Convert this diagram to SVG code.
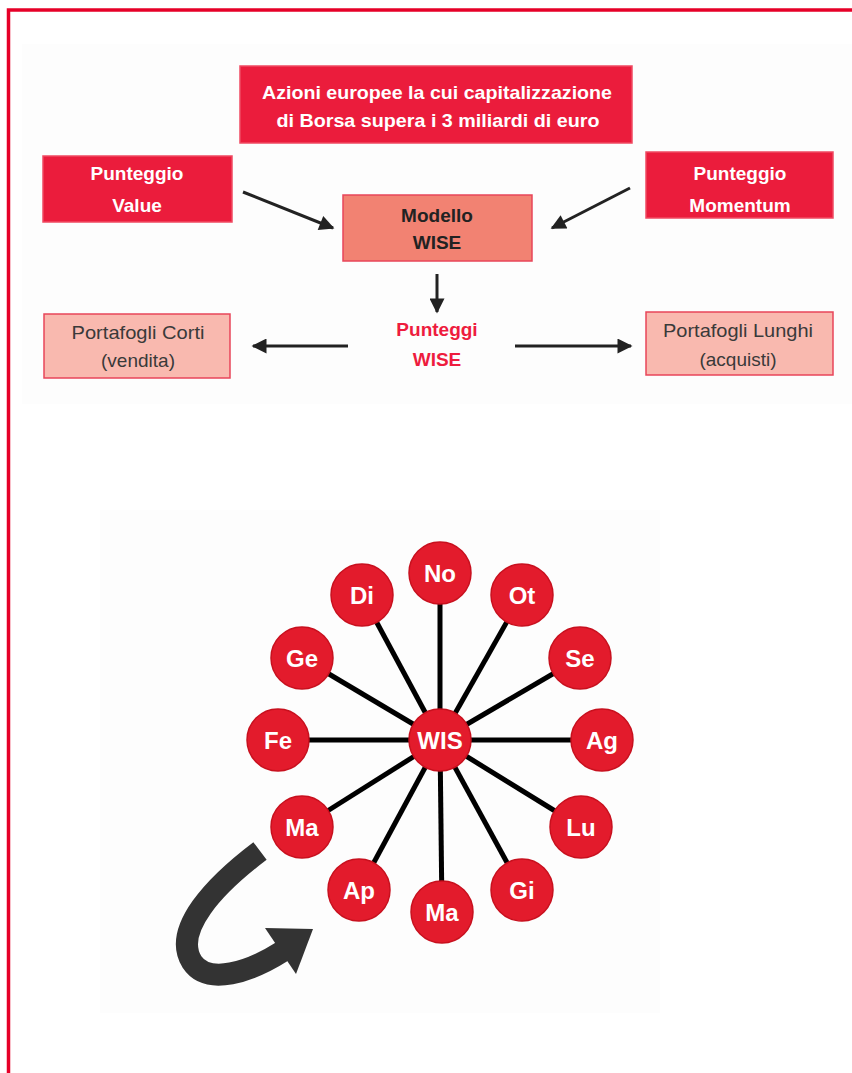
<svg xmlns="http://www.w3.org/2000/svg" width="852" height="1073" viewBox="0 0 852 1073">
<defs>
<style>
.t{font-family:"Liberation Sans",Arial,sans-serif;text-anchor:middle}
.b{font-weight:bold}
.red{fill:#eb1c3c;stroke:#f04a62;stroke-width:1.5}
.mid{fill:#f28272;stroke:#e8455a;stroke-width:1.5}
.light{fill:#f9b9af;stroke:#e8455a;stroke-width:1.5}
.wt{fill:#ffffff}
.arr{stroke:#222;stroke-width:3;fill:none;marker-end:url(#ah)}
.spoke{stroke:#000;stroke-width:5}
.c{fill:#e31b2c;stroke:#c8101e;stroke-width:1.5}
.ct{font-family:"Liberation Sans",Arial,sans-serif;font-weight:bold;font-size:24px;fill:#fff;text-anchor:middle}
</style>
<marker id="ah" viewBox="0 0 10 10" refX="9" refY="5" markerWidth="6" markerHeight="5" orient="auto" markerUnits="strokeWidth">
<path d="M0,0 L10,5 L0,10 z" fill="#222"/>
</marker>
</defs>
<rect x="0" y="0" width="852" height="1073" fill="#ffffff"/>
<rect x="22" y="44" width="830" height="360" fill="#fdfdfd"/>
<rect x="100" y="510" width="560" height="503" fill="#fdfdfd"/>
<path d="M8.5,1073 V10 H852" fill="none" stroke="#e60028" stroke-width="3.5"/>

<g id="connectors">
<line class="arr" x1="243" y1="192" x2="333" y2="228"/>
<line class="arr" x1="630" y1="188" x2="552" y2="228"/>
<line class="arr" x1="437" y1="274" x2="437" y2="312"/>
<line class="arr" x1="348" y1="346" x2="253" y2="346"/>
<line class="arr" x1="515" y1="346" x2="631" y2="346"/>
</g>

<g id="n-azioni">
<rect class="red" x="240" y="66" width="392" height="77"/>
<text class="t b wt" x="437" y="99" font-size="19" textLength="350" lengthAdjust="spacingAndGlyphs">Azioni europee la cui capitalizzazione</text>
<text class="t b wt" x="438" y="127" font-size="19" textLength="323" lengthAdjust="spacingAndGlyphs">di Borsa supera i 3 miliardi di euro</text>
</g>
<g id="n-value">
<rect class="red" x="43" y="156" width="189" height="66"/>
<text class="t b wt" x="137" y="180" font-size="19">Punteggio</text>
<text class="t b wt" x="137" y="212" font-size="19">Value</text>
</g>
<g id="n-momentum">
<rect class="red" x="646" y="152" width="187" height="66"/>
<text class="t b wt" x="740" y="180" font-size="19">Punteggio</text>
<text class="t b wt" x="740" y="212" font-size="19">Momentum</text>
</g>
<g id="n-modello">
<rect class="mid" x="343" y="195" width="189" height="66"/>
<text class="t b" fill="#222" x="437" y="222" font-size="19">Modello</text>
<text class="t b" fill="#222" x="437" y="249" font-size="19">WISE</text>
</g>
<g id="n-punteggi">
<text class="t b" fill="#ee1c3e" x="437" y="336" font-size="19">Punteggi</text>
<text class="t b" fill="#ee1c3e" x="437" y="366" font-size="19">WISE</text>
</g>
<g id="n-corti">
<rect class="light" x="44" y="314" width="186" height="64"/>
<text class="t" fill="#3a3a3a" x="138" y="339" font-size="19" textLength="133" lengthAdjust="spacingAndGlyphs">Portafogli Corti</text>
<text class="t" fill="#3a3a3a" x="138" y="367" font-size="19">(vendita)</text>
</g>
<g id="n-lunghi">
<rect class="light" x="646" y="312" width="187" height="63"/>
<text class="t" fill="#3a3a3a" x="738" y="337" font-size="19" textLength="150" lengthAdjust="spacingAndGlyphs">Portafogli Lunghi</text>
<text class="t" fill="#3a3a3a" x="738" y="366" font-size="19">(acquisti)</text>
</g>

<g id="spokes">
<line class="spoke" x1="440" y1="740" x2="440" y2="573"/>
<line class="spoke" x1="440" y1="740" x2="362" y2="595"/>
<line class="spoke" x1="440" y1="740" x2="522" y2="595"/>
<line class="spoke" x1="440" y1="740" x2="302" y2="658"/>
<line class="spoke" x1="440" y1="740" x2="580" y2="658"/>
<line class="spoke" x1="440" y1="740" x2="278" y2="740"/>
<line class="spoke" x1="440" y1="740" x2="602" y2="740"/>
<line class="spoke" x1="440" y1="740" x2="302" y2="827"/>
<line class="spoke" x1="440" y1="740" x2="581" y2="827"/>
<line class="spoke" x1="440" y1="740" x2="359" y2="890"/>
<line class="spoke" x1="440" y1="740" x2="522" y2="890"/>
<line class="spoke" x1="440" y1="740" x2="442" y2="912"/>
</g>

<g id="c-wis"><circle class="c" cx="440" cy="740" r="31"/><text class="ct" x="440" y="749">WIS</text></g>
<g id="c-no"><circle class="c" cx="440" cy="573" r="31"/><text class="ct" x="440" y="582">No</text></g>
<g id="c-di"><circle class="c" cx="362" cy="595" r="31"/><text class="ct" x="362" y="604">Di</text></g>
<g id="c-ot"><circle class="c" cx="522" cy="595" r="31"/><text class="ct" x="522" y="604">Ot</text></g>
<g id="c-ge"><circle class="c" cx="302" cy="658" r="31"/><text class="ct" x="302" y="667">Ge</text></g>
<g id="c-se"><circle class="c" cx="580" cy="658" r="31"/><text class="ct" x="580" y="667">Se</text></g>
<g id="c-fe"><circle class="c" cx="278" cy="740" r="31"/><text class="ct" x="278" y="749">Fe</text></g>
<g id="c-ag"><circle class="c" cx="602" cy="740" r="31"/><text class="ct" x="602" y="749">Ag</text></g>
<g id="c-ma1"><circle class="c" cx="302" cy="827" r="31"/><text class="ct" x="302" y="836">Ma</text></g>
<g id="c-lu"><circle class="c" cx="581" cy="827" r="31"/><text class="ct" x="581" y="836">Lu</text></g>
<g id="c-ap"><circle class="c" cx="359" cy="890" r="31"/><text class="ct" x="359" y="899">Ap</text></g>
<g id="c-gi"><circle class="c" cx="522" cy="890" r="31"/><text class="ct" x="522" y="899">Gi</text></g>
<g id="c-ma2"><circle class="c" cx="442" cy="912" r="31"/><text class="ct" x="442" y="921">Ma</text></g>

<g id="curved-arrow">
<path d="M260,851 C215,885 172,930 192,962 C208,986 250,972 283,951" fill="none" stroke="#333" stroke-width="22"/>
<polygon points="265,928 313,929 296,974" fill="#333"/>
</g>
</svg>
